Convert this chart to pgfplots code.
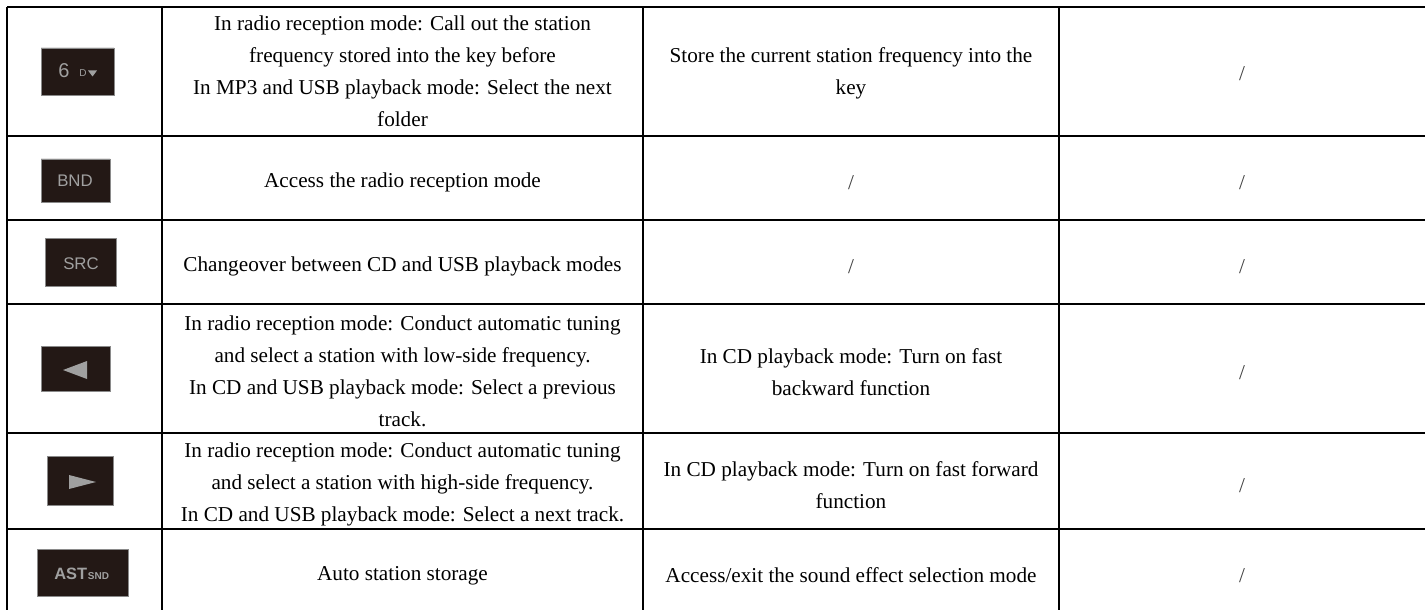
\documentclass[border=0pt]{standalone}
\usepackage{pgfplots}
\pgfplotsset{compat=1.18}
\usepackage{fontspec}
\setmainfont{Liberation Serif}
\newfontfamily\iconfont{Liberation Sans}
\definecolor{keybg}{HTML}{231815}
\definecolor{keyfg}{HTML}{A0A0A0}
\definecolor{keyedge}{HTML}{8A8A8A}
\tikzset{cell/.style={font=\fontsize{10.6}{16}\selectfont,align=center,inner sep=0pt},
  slash/.style={cell,text=black!75}}
\begin{document}
\begin{tikzpicture}
\begin{axis}[width=712.5pt,height=305pt,scale only axis,
  xmin=0,xmax=1425,ymin=0,ymax=610,y dir=reverse,hide axis,no markers]
% table grid
\addplot[black,line width=0.55pt] coordinates {(7,7) (1430,7)};
\addplot[black,line width=0.55pt] coordinates {(7,136) (1430,136)};
\addplot[black,line width=0.55pt] coordinates {(7,220) (1430,220)};
\addplot[black,line width=0.55pt] coordinates {(7,304) (1430,304)};
\addplot[black,line width=0.55pt] coordinates {(7,433) (1430,433)};
\addplot[black,line width=0.55pt] coordinates {(7,529) (1430,529)};
\addplot[black,line width=0.55pt] coordinates {(7,7) (7,620)};
\addplot[black,line width=0.55pt] coordinates {(162,7) (162,620)};
\addplot[black,line width=0.55pt] coordinates {(643,7) (643,620)};
\addplot[black,line width=0.55pt] coordinates {(1059,7) (1059,620)};
% keys
\addplot[fill=keybg,draw=keyedge,line width=0.4pt] coordinates {(41,48) (114,48) (114,95) (41,95) (41,48)};
\addplot[fill=keybg,draw=keyedge,line width=0.4pt] coordinates {(41,159) (110,159) (110,202) (41,202) (41,159)};
\addplot[fill=keybg,draw=keyedge,line width=0.4pt] coordinates {(45,238) (116,238) (116,286) (45,286) (45,238)};
\addplot[fill=keybg,draw=keyedge,line width=0.4pt] coordinates {(41,346) (110,346) (110,391) (41,391) (41,346)};
\addplot[fill=keybg,draw=keyedge,line width=0.4pt] coordinates {(47,456) (113,456) (113,505) (47,505) (47,456)};
\addplot[fill=keybg,draw=keyedge,line width=0.4pt] coordinates {(37,549) (128,549) (128,596) (37,596) (37,549)};
% key glyphs
\addplot[fill=keyfg,draw=none] coordinates {(88,70.5) (97,70.5) (92.5,76.5) (88,70.5)};
\addplot[fill=keyfg,draw=none] coordinates {(63,370) (87,361) (87,379) (63,370)};
\addplot[fill=keyfg,draw=none] coordinates {(69,475) (96,482) (69,489) (69,475)};
\node[inner sep=0pt,text=keyfg,font=\iconfont\fontsize{10}{10}\selectfont] at (axis cs:64,70.5) {6};
\node[inner sep=0pt,text=keyfg,font=\iconfont\fontsize{5}{5}\selectfont] at (axis cs:83,73.5) {D};
\node[inner sep=0pt,text=keyfg,font=\iconfont\fontsize{8.4}{9}\selectfont] at (axis cs:75,181) {BND};
\node[inner sep=0pt,text=keyfg,font=\iconfont\fontsize{8.4}{9}\selectfont] at (axis cs:81,264) {SRC};
\node[inner sep=0pt,text=keyfg,font=\iconfont\bfseries\fontsize{8.2}{9}\selectfont,anchor=east] at (axis cs:87.5,574) {AST};
\node[inner sep=0pt,text=keyfg,font=\iconfont\bfseries\fontsize{5}{6}\selectfont,anchor=west] at (axis cs:87.5,576) {SND};
% row 1
\node[cell] at (axis cs:402.5,71.5) {In radio reception mode: Call out the station\\frequency stored into the key before\\In MP3 and USB playback mode: Select the next\\folder};
\node[cell] at (axis cs:851,73) {Store the current station frequency into the\\key};
\node[slash] at (axis cs:1242,74) {/};
% row 2
\node[cell] at (axis cs:402.5,182.5) {Access the radio reception mode};
\node[slash] at (axis cs:851,182.5) {/};
\node[slash] at (axis cs:1242,182.5) {/};
% row 3
\node[cell] at (axis cs:402.5,266.5) {Changeover between CD and USB playback modes};
\node[slash] at (axis cs:851,266.5) {/};
\node[slash] at (axis cs:1242,266.5) {/};
% row 4
\node[cell] at (axis cs:402.5,371) {In radio reception mode: Conduct automatic tuning\\and select a station with low-side frequency.\\In CD and USB playback mode: Select a previous\\track.};
\node[cell] at (axis cs:851,372.5) {In CD playback mode: Turn on fast\\backward function};
\node[slash] at (axis cs:1242,372.5) {/};
% row 5
\node[cell] at (axis cs:402.5,484.5) {In radio reception mode: Conduct automatic tuning\\and select a station with high-side frequency.\\In CD and USB playback mode: Select a next track.};
\node[cell] at (axis cs:851,485.5) {In CD playback mode: Turn on fast forward\\function};
\node[slash] at (axis cs:1242,485.5) {/};
% row 6
\node[cell] at (axis cs:402.5,575.5) {Auto station storage};
\node[cell] at (axis cs:851,575.5) {Access/exit the sound effect selection mode};
\node[slash] at (axis cs:1242,575.5) {/};
\end{axis}
\pgfresetboundingbox
\path[use as bounding box] (0,0) rectangle (712.5pt,305pt);
\end{tikzpicture}
\end{document}
